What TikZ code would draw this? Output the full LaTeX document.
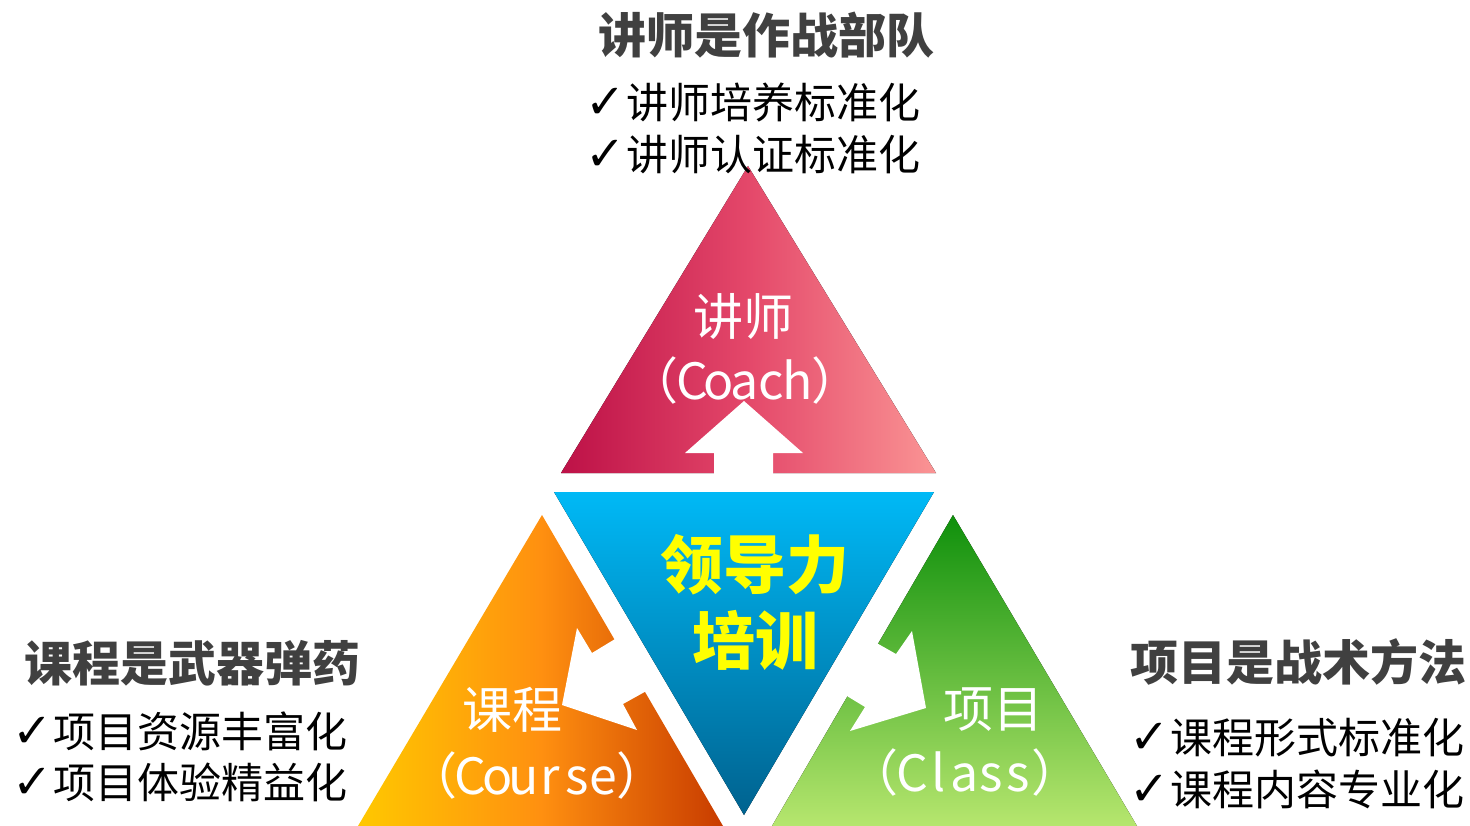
\documentclass[tikz,border=0pt]{standalone}
\usepackage{fontspec}
\setmainfont{Noto Sans CJK SC}
\newfontfamily\dv{DejaVu Sans}
\definecolor{crimL}{HTML}{BD1147}
\definecolor{crimM}{HTML}{E4486A}
\definecolor{crimR}{HTML}{FA9494}
\definecolor{blueT}{HTML}{00B9F6}
\definecolor{blueB}{HTML}{00628F}
\definecolor{orgL}{HTML}{FFC800}
\definecolor{orgM}{HTML}{FF9010}
\definecolor{orgR}{HTML}{C83C00}
\definecolor{grnT}{HTML}{0F900C}
\definecolor{grnB}{HTML}{B6E66E}
\definecolor{headgray}{HTML}{404040}
\definecolor{txtyellow}{HTML}{FFFF00}
\tikzset{
  head/.style={font=\fontsize{48}{52}\selectfont\bfseries, text=headgray, inner sep=0pt},
  item/.style={font=\fontsize{42}{46}\selectfont, text=black, inner sep=0pt},
  tlabel/.style={font=\fontsize{50}{56}\selectfont, text=white, inner sep=0pt},
  core/.style={font=\fontsize{63}{70}\selectfont\bfseries, text=txtyellow, inner sep=0pt},
  whitearrow/.style={fill=white, draw=none}
}
\newcommand{\ck}{{\dv\fontsize{48}{50}\selectfont ✓}\kern1pt}
\newcommand{\mc}[1]{\makebox[0.53em]{#1}}
\begin{document}
\begin{tikzpicture}[x=1pt,y=-1pt]
\useasboundingbox (0,0) rectangle (1470,826);
\clip (0,0) rectangle (1470,826);
\fill[white] (0,0) rectangle (1470,826);
% triangles
\fill[left color=crimL, right color=crimR, middle color=crimM] (748,166) -- (561,473) -- (936,473) -- cycle;
\fill[top color=blueT, bottom color=blueB] (554,492) -- (934,492) -- (744,815) -- cycle;
\shade[left color=orgL, right color=orgR, middle color=orgM] (542,515) -- (358,826) -- (723,826) -- cycle;
\fill[top color=grnT, bottom color=grnB] (953,515) -- (772,826) -- (1137,826) -- cycle;
% white arrows
\fill[whitearrow] (714,476) -- (714,453) -- (685,453) -- (744,401) -- (803,453) -- (773,453) -- (773,476) -- cycle;
\fill[whitearrow] (620,636) -- (592,653) -- (577,628) -- (562,705) -- (637,730) -- (623,704) -- (650,689) -- cycle;
\fill[whitearrow] (873,641) -- (896,654) -- (912,631) -- (926,708) -- (850,731) -- (865,707) -- (842,693) -- cycle;
% triangle labels
\node[tlabel] (coach1) at (743,316) {讲师};
\node[tlabel] (coach2) at (745,380) {（\mc{C}\mc{o}\mc{a}\mc{c}\mc{h}）};
\node[tlabel] (course1) at (512,710) {课程};
\node[tlabel] (course2) at (537,775) {（\mc{C}\mc{o}\mc{u}\mc{r}\mc{s}\mc{e}）};
\node[tlabel] (class1) at (993,710) {项目};
\node[tlabel] (class2) at (965,772) {（\mc{C}\mc{l}\mc{a}\mc{s}\mc{s}）};
\node[core] (core1) at (755,565) {领导力};
\node[core] (core2) at (755,640) {培训};
% headings
\node[head] (htop) at (766,35) {讲师是作战部队};
\node[item] (t1) at (753,103) {\ck 讲师培养标准化};
\node[item] (t2) at (753,155) {\ck 讲师认证标准化};
\node[head] (hleft) at (192,663) {课程是武器弹药};
\node[item] (l1) at (180,731) {\ck 项目资源丰富化};
\node[item] (l2) at (180,782) {\ck 项目体验精益化};
\node[head] (hright) at (1298,662) {项目是战术方法};
\node[item] (r1) at (1297,738) {\ck 课程形式标准化};
\node[item] (r2) at (1297,789) {\ck 课程内容专业化};
\end{tikzpicture}
\end{document}
